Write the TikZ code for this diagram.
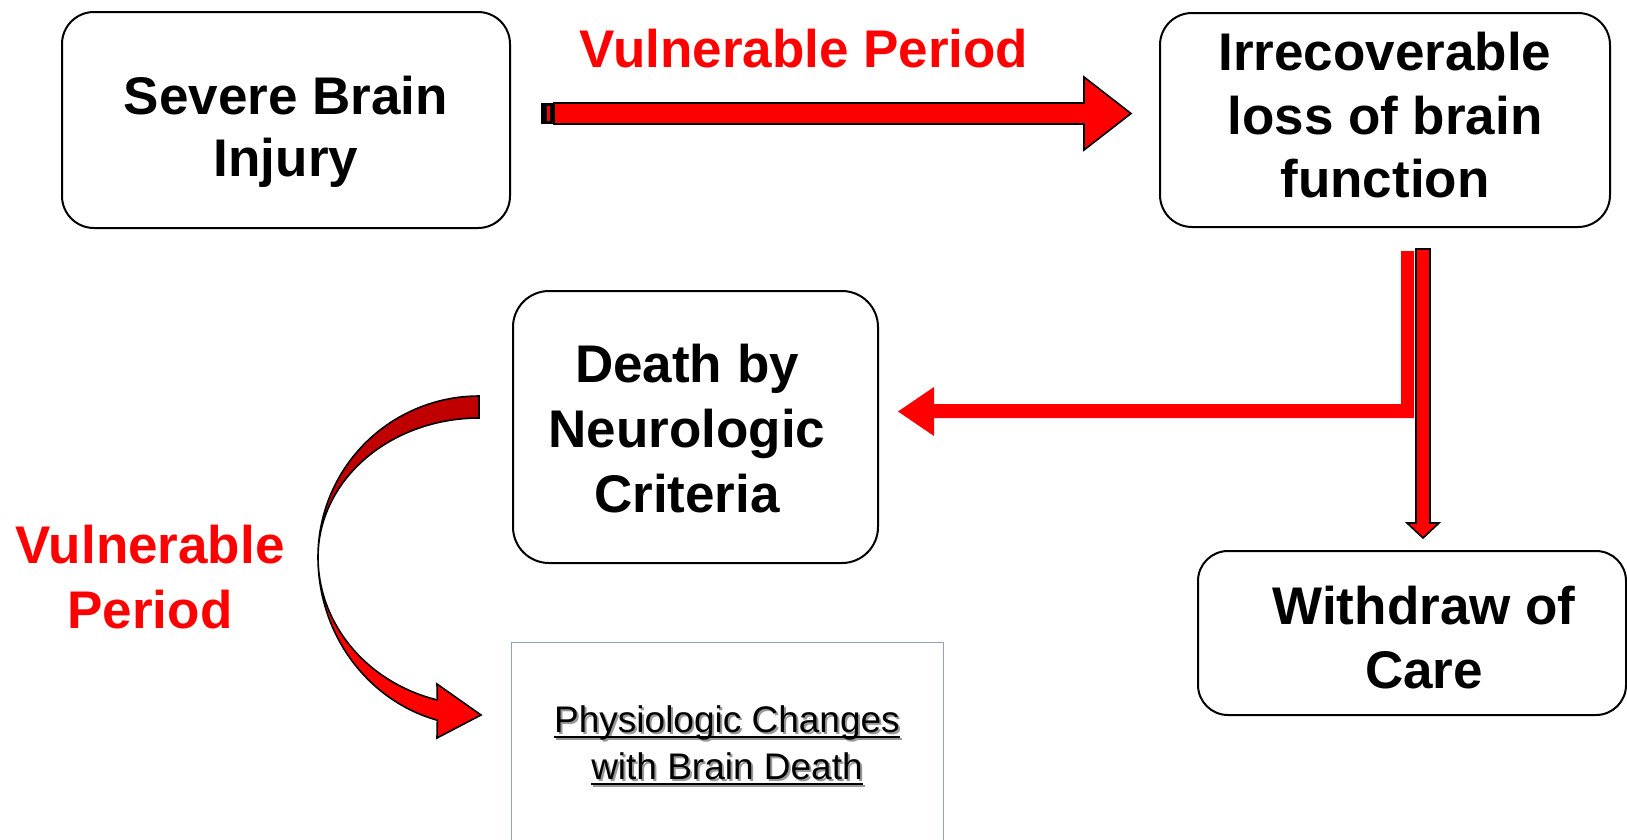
\documentclass[tikz,border=0pt]{standalone}
\usepackage{fontspec}
\setmainfont{Liberation Sans}
\usetikzlibrary{calc}
\definecolor{bred}{HTML}{FF0000}
\definecolor{dred}{HTML}{C00000}
\definecolor{bluegray}{HTML}{8EA2C4}
\newcommand\myul[1]{\leavevmode\setbox0=\hbox{#1}\rlap{\rule[-6pt]{\wd0}{2.2pt}}\box0}
\begin{document}
\begin{tikzpicture}[x=1pt,y=-1pt,
  box/.style={draw=black, line width=2pt, rounded corners=32pt, inner sep=0pt},
  boxtxt/.style={font=\fontsize{53}{63}\selectfont\bfseries, anchor=base, inner sep=0pt},
  redtxt/.style={font=\fontsize{53}{65}\selectfont\bfseries, text=bred, anchor=base, inner sep=0pt},
  pctxt/.style={font=\fontsize{37}{47}\selectfont, anchor=base, inner sep=0pt},
  blockarrow/.style={fill=bred, draw=black, line width=1.6pt, line join=miter},
  curvearrow/.style={draw=black, line width=1.6pt, line join=miter}
]
\useasboundingbox (0,0) rectangle (1627,839);
\clip (0,0) rectangle (1627,839);
\fill[white] (0,0) rectangle (1627,839);

% boxes
\node[box, minimum width=448pt, minimum height=216pt] (sbi) at (286,120) {};
\node[boxtxt] (sbi1) at (286,114) {Severe Brain};
\node[boxtxt] (sbi2) at (286,176) {Injury};

\node[box, minimum width=450pt, minimum height=214pt] (irr) at (1385,120) {};
\node[boxtxt] (irr1) at (1385,70) {Irrecoverable};
\node[boxtxt] (irr2) at (1385,134) {loss of brain};
\node[boxtxt] (irr3) at (1385,197) {function};

\node[box, rounded corners=36pt, minimum width=365pt, minimum height=272pt] (dnc) at (695.5,427) {};
\node[boxtxt] (dnc1) at (687,382) {Death by};
\node[boxtxt] (dnc2) at (687,447) {Neurologic};
\node[boxtxt] (dnc3) at (687,512) {Criteria};

\node[box, rounded corners=30pt, minimum width=428pt, minimum height=164pt] (woc) at (1412,633) {};
\node[boxtxt] (woc1) at (1424,624) {Withdraw of};
\node[boxtxt] (woc2) at (1424,688) {Care};

\node[draw=bluegray, line width=1.3pt, minimum width=432pt, minimum height=260pt, inner sep=0pt, anchor=north west] (pcb) at (511,642) {};
\node[pctxt, text=black!40] (pc1s) at (729,734) {\myul{Physiologic Changes}};
\node[pctxt, text=black!40] (pc2s) at (729,781) {\myul{with Brain Death}};
\node[pctxt] (pc1) at (727,732) {\myul{Physiologic Changes}};
\node[pctxt] (pc2) at (727,779) {\myul{with Brain Death}};

% red labels
\node[redtxt] (vp1) at (804,67) {Vulnerable Period};
\node[redtxt] (vp2a) at (150,563) {Vulnerable};
\node[redtxt] (vp2b) at (150,628) {Period};

% top block arrow
\coordinate (tA) at (554,103);
\coordinate (tTip) at (1131,113.5);
\fill[black] (541,103) rectangle (556,124);
\fill[bred] (547,106) rectangle (549.5,121);
\draw[blockarrow] (tA) -- (1084,103) -- (1084,77) -- (tTip) -- (1084,150) -- (1084,124) -- (554,124) -- cycle;

% red L connector (no outline)
\coordinate (lTip) at (898,411.5);
\fill[bred] (1401,251) -- (1414,251) -- (1414,418) -- (934,418) -- (934,436) -- (lTip) -- (934,387) -- (934,404) -- (1401,404) -- cycle;

% vertical block arrow
\coordinate (vTip) at (1423,538);
\draw[blockarrow] (1416,249) -- (1430,249) -- (1430,523) -- (1439,523) -- (vTip) -- (1407,523) -- (1416,523) -- cycle;

% curved arrow: lower bright part
\filldraw[curvearrow, fill=bred]
  plot[domain=180:105, samples=50] ({479+161*cos(\x)},{557+169*sin(\x)})
  -- (437,738) -- (481,715) -- (437,684)
  -- plot[domain=105:180, samples=50] ({479+161*cos(\x)},{557+148*sin(\x)})
  -- cycle;
% curved arrow: upper dark part
\filldraw[curvearrow, fill=dred]
  plot[domain=-90:-180, samples=50] ({479+161*cos(\x)},{557+161*sin(\x)})
  -- plot[domain=-180:-90, samples=50] ({479+161*cos(\x)},{557+139*sin(\x)})
  -- cycle;
\end{tikzpicture}
\end{document}
